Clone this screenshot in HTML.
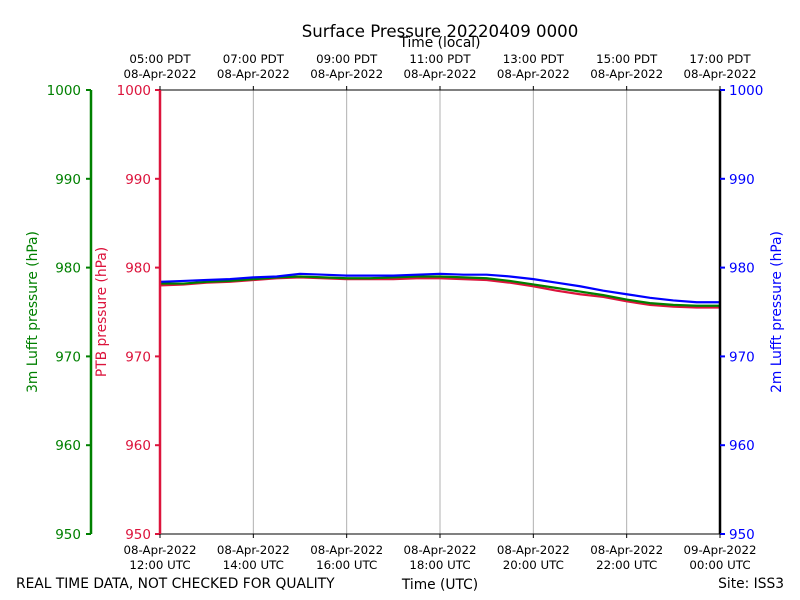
<!DOCTYPE html>
<html><head><meta charset="utf-8"><style>body{margin:0;background:#fff}svg{display:block;font-family:"DejaVu Sans","Liberation Sans",sans-serif}</style></head>
<body>
<svg id="c" width="800" height="600"></svg>
<script>
const hours=[12,12.5,13,13.5,14,14.5,15,15.5,16,16.5,17,17.5,18,18.5,19,19.5,20,20.5,21,21.5,22,22.5,23,23.5,24];
const blueVals=[978.4,978.5,978.6,978.7,978.9,979.0,979.3,979.2,979.1,979.1,979.1,979.2,979.3,979.2,979.2,979.0,978.7,978.3,977.9,977.4,977.0,976.6,976.3,976.1,976.1];
const greenVals=[978.2,978.2,978.4,978.5,978.7,978.9,979.0,978.9,978.8,978.8,978.9,979.0,979.0,978.9,978.8,978.5,978.1,977.7,977.3,976.9,976.4,976.0,975.8,975.7,975.7];
const redVals=[978.0,978.1,978.3,978.4,978.6,978.8,978.9,978.8,978.7,978.7,978.7,978.8,978.8,978.7,978.6,978.3,977.9,977.4,977.0,976.7,976.2,975.8,975.6,975.5,975.5];
const yTicks=[950,960,970,980,990,1000];
const xTickHours=[12,14,16,18,20,22,24];
const utcLabels=[["08-Apr-2022","12:00 UTC"],["08-Apr-2022","14:00 UTC"],["08-Apr-2022","16:00 UTC"],["08-Apr-2022","18:00 UTC"],["08-Apr-2022","20:00 UTC"],["08-Apr-2022","22:00 UTC"],["09-Apr-2022","00:00 UTC"]];
const localLabels=[["05:00 PDT","08-Apr-2022"],["07:00 PDT","08-Apr-2022"],["09:00 PDT","08-Apr-2022"],["11:00 PDT","08-Apr-2022"],["13:00 PDT","08-Apr-2022"],["15:00 PDT","08-Apr-2022"],["17:00 PDT","08-Apr-2022"]];
const X0=160,X1=720,Y0=534,Y1=90;
const xs=h=>X0+(h-12)/12*(X1-X0);
const ys=v=>Y0-(v-950)/50*(Y0-Y1);
const svg=document.getElementById('c');const NS='http://www.w3.org/2000/svg';
function mk(tag,attrs,name,txt){const e=document.createElementNS(NS,tag);for(const k in attrs)e.setAttribute(k,attrs[k]);


if(txt!==undefined)e.textContent=txt;svg.appendChild(e);return e;}
xTickHours.slice(1,-1).forEach(h=>mk('line',{x1:xs(h),x2:xs(h),y1:Y1,y2:Y0,stroke:'#b0b0b0','stroke-width':1},'grid-line'));
[[redVals,'#dc143c','ptb-line'],[greenVals,'#008000','lufft-3m-line'],[blueVals,'#0000ff','lufft-2m-line']].forEach(([vals,col,n])=>{
 mk('polyline',{points:vals.map((v,i)=>xs(hours[i])+','+ys(v)).join(' '),fill:'none',stroke:col,'stroke-width':2.2},n);});
mk('line',{x1:X0,x2:X1,y1:Y1,y2:Y1,stroke:'#000','stroke-width':1},'top-spine');
mk('line',{x1:X0,x2:X1,y1:Y0,y2:Y0,stroke:'#000','stroke-width':1},'bottom-spine');
mk('line',{x1:X1,x2:X1,y1:Y1,y2:Y0,stroke:'#000','stroke-width':2.5},'right-spine');
mk('line',{x1:X0,x2:X0,y1:Y1,y2:Y0,stroke:'#dc143c','stroke-width':2.5},'ptb-axis-line');
mk('line',{x1:91,x2:91,y1:Y1,y2:Y0,stroke:'#008000','stroke-width':2.5},'lufft-3m-axis-line');
yTicks.forEach(v=>{const y=ys(v);
 mk('line',{x1:86,x2:91,y1:y,y2:y,stroke:'#008000','stroke-width':2},'green-y-tick');
 mk('text',{x:81,y:y+5,'text-anchor':'end',fill:'#008000','font-size':13.5},'green-y-tick-label',v);
 mk('line',{x1:155,x2:160,y1:y,y2:y,stroke:'#dc143c','stroke-width':2},'red-y-tick');
 mk('text',{x:151,y:y+5,'text-anchor':'end',fill:'#dc143c','font-size':13.5},'red-y-tick-label',v);
 mk('line',{x1:720,x2:725,y1:y,y2:y,stroke:'#0000ff','stroke-width':2},'blue-y-tick');
 mk('text',{x:729,y:y+5,'text-anchor':'start',fill:'#0000ff','font-size':13.5},'blue-y-tick-label',v);});
xTickHours.forEach((h,i)=>{const x=xs(h);
 mk('line',{x1:x,x2:x,y1:Y0,y2:Y0+4,stroke:'#000'},'x-tick');
 mk('line',{x1:x,x2:x,y1:Y1-4,y2:Y1,stroke:'#000'},'top-x-tick');
 mk('text',{x:x,y:554,'text-anchor':'middle','font-size':11.8},'utc-date-label',utcLabels[i][0]);
 mk('text',{x:x,y:569,'text-anchor':'middle','font-size':11.8},'utc-time-label',utcLabels[i][1]);
 mk('text',{x:x,y:63,'text-anchor':'middle','font-size':11.8},'local-time-label',localLabels[i][0]);
 mk('text',{x:x,y:78,'text-anchor':'middle','font-size':11.8},'local-date-label',localLabels[i][1]);});
mk('text',{x:440,y:37,'text-anchor':'middle','font-size':16.6},'chart-title','Surface Pressure 20220409 0000');
mk('text',{x:440,y:47,'text-anchor':'middle','font-size':13.8},'top-x-axis-title','Time (local)');
mk('text',{x:440,y:589,'text-anchor':'middle','font-size':13.8},'x-axis-title','Time (UTC)');
mk('text',{x:16,y:588,'font-size':13.8},'quality-note','REAL TIME DATA, NOT CHECKED FOR QUALITY');
mk('text',{x:784,y:588,'text-anchor':'end','font-size':13.8},'site-label','Site: ISS3');
mk('text',{x:0,y:0,transform:'translate(37,312) rotate(-90)','text-anchor':'middle',fill:'#008000','font-size':13.8},'green-y-axis-title','3m Lufft pressure (hPa)');
mk('text',{x:0,y:0,transform:'translate(106,312) rotate(-90)','text-anchor':'middle',fill:'#dc143c','font-size':13.8},'red-y-axis-title','PTB pressure (hPa)');
mk('text',{x:0,y:0,transform:'translate(781,312) rotate(-90)','text-anchor':'middle',fill:'#0000ff','font-size':13.8},'blue-y-axis-title','2m Lufft pressure (hPa)');
</script>
</body></html>
